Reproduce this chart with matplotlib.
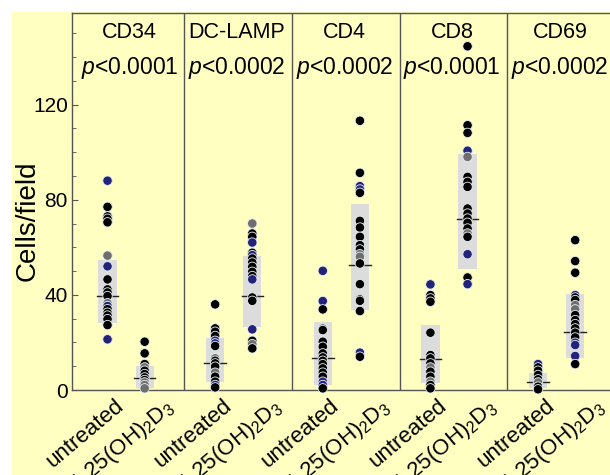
import matplotlib
matplotlib.use("Agg")
import matplotlib.pyplot as plt
from matplotlib.patches import Rectangle
import matplotlib.transforms as mtransforms

plt.rcParams['font.family'] = ['Liberation Sans', 'DejaVu Sans']
plt.rcParams['mathtext.fontset'] = 'custom'
plt.rcParams['mathtext.rm'] = 'Liberation Sans'
plt.rcParams['mathtext.it'] = 'Liberation Sans:italic'

markers = ["CD34", "DC-LAMP", "CD4", "CD8", "CD69"]
pvalues = ["<0.0001", "<0.0002", "<0.0002", "<0.0001", "<0.0002"]
treatments = ["untreated", "1,25(OH)$_2$D$_3$"]

# values (cells/field) and colour codes: k=black, n=navy, g=grey
cd34_untreated = [88, 77, 73, 72, 70.5, 56.5, 52, 46.5, 42.3, 41, 39.5, 36.5, 35.3, 34, 32.5, 31.3, 29.8, 27.3, 21.3]
cd34_untreated_c = "nkkkkgnkkkkgnkkkkkn"
cd34_treated = [20.3, 15.4, 10.9, 9.5, 8.1, 6.7, 5.3, 4.2, 3.2, 2.1, 0.7]
cd34_treated_c = "kkkgkkkkggg"
dclamp_untreated = [36, 25.9, 24.5, 22.7, 20.7, 19.6, 18.5, 13.3, 12.3, 11.2, 9.8, 7.3, 5.6, 3.5, 2.1, 1.1]
dclamp_untreated_c = "kkkknnkgkkkgkknk"
dclamp_treated = [70, 65.8, 64.4, 62, 57.7, 56.7, 55.3, 53.6, 51.8, 49.7, 47.9, 46.5, 38.9, 37.5, 25.5, 20.7, 19.3, 17.5]
dclamp_treated_c = "gkknknkkkkknkknkgk"
cd4_untreated = [50.1, 37.4, 33.9, 25.9, 25.2, 20.3, 18.2, 15.4, 13.7, 12.3, 10.9, 9.1, 7.3, 5.6, 3.5, 2.1, 0.7]
cd4_untreated_c = "nnkgkkkkkkkkkknnk"
cd4_treated = [113.2, 91.3, 85.7, 84.3, 82.9, 71.1, 68.3, 64.4, 60.9, 59.1, 57.1, 56, 53.2, 44.5, 38.1, 37.5, 33.2, 15.7, 14]
cd4_treated_c = "kknnkkkkkkggkkkkknk"
cd8_untreated = [44.4, 39.9, 38.5, 37.1, 24.1, 14.7, 13.3, 11.2, 9.5, 7.7, 5.6, 3.5, 2.1, 0.7]
cd8_untreated_c = "nkkkkkkkgkkgkk"
cd8_treated = [144.5, 111.3, 108.1, 100.6, 98, 89.6, 87.5, 85.4, 76.3, 74.2, 72.1, 70.3, 67.9, 65.8, 64.4, 57.1, 47.3, 44.5]
cd8_treated_c = "kkkngkkkkkkkkgknkn"
cd69_untreated = [10.9, 9.5, 8.1, 6.3, 4.5, 3.2, 1.4, 0.3]
cd69_untreated_c = "nkkkkgkk"
cd69_treated = [63, 54.2, 49.3, 39.9, 38.9, 37.8, 35.7, 33.9, 31.5, 29.4, 27.7, 25.9, 24.1, 22.1, 19.9, 18.9, 14.3, 10.9]
cd69_treated_c = "kkknkkggkkkkkknnnk"

# box ranges (low, high) and medians
box_low = [28, 0.7, 3.5, 26.6, 2.1, 33.6, 3.1, 50.7, 0.7, 13.3]
box_high = [54.6, 10, 22, 56.3, 28.7, 78, 27.3, 99.4, 7, 40.3]
medians = [39.5, 4.9, 11.2, 39.5, 13.6, 52.5, 13, 71.7, 3.2, 24.2]

groups = [
    (cd34_untreated, cd34_untreated_c), (cd34_treated, cd34_treated_c),
    (dclamp_untreated, dclamp_untreated_c), (dclamp_treated, dclamp_treated_c),
    (cd4_untreated, cd4_untreated_c), (cd4_treated, cd4_treated_c),
    (cd8_untreated, cd8_untreated_c), (cd8_treated, cd8_treated_c),
    (cd69_untreated, cd69_untreated_c), (cd69_treated, cd69_treated_c),
]

cmap = {"k": "#000000", "n": "#23237a", "g": "#6e6e6e"}
W, H = 610, 475
fig = plt.figure(figsize=(W / 100, H / 100), dpi=100)
fig.patch.set_facecolor("white")
fig.add_artist(Rectangle((12 / W, 0), 1 - 12 / W, 1 - 12 / H, transform=fig.transFigure,
                         facecolor="#FFFFC2", edgecolor="none", zorder=-10))

left_px, right_px, top_px, bottom_px = 72, 615, 13, 390
ax = fig.add_axes([left_px / W, 1 - bottom_px / H, (right_px - left_px) / W, (bottom_px - top_px) / H])
ax.set_facecolor("none")
ax.set_xlim(-0.33, 4.715)
ax.set_ylim(0, 158.5)

offset = 0.345
xpos = []
for k in range(5):
    xpos += [k, k + offset]

for i, ((vals, cols), x) in enumerate(zip(groups, xpos)):
    ax.add_patch(Rectangle((x - 0.085, box_low[i]), 0.17, box_high[i] - box_low[i],
                           facecolor="#dcdcdc", edgecolor="none", zorder=1))
    ax.plot([x - 0.1, x + 0.1], [medians[i], medians[i]], color="#222222", lw=1.0, zorder=2)
    ax.scatter([x] * len(vals), vals, s=46, c=[cmap[c] for c in cols],
               edgecolors="#e8f0f0", linewidths=0.6, zorder=3, clip_on=False)

for k in range(4):
    ax.axvline(k + 0.715, color="#555555", lw=1.0, zorder=0)

for k in range(5):
    ax.text(k + 0.2025, 150.3, markers[k], ha="center", va="center", fontsize=15.5)
    ax.text(k + 0.2025, 135.2, "$p$" + pvalues[k], ha="center", va="center", fontsize=16.5)

ax.set_yticks([0, 40, 80, 120])
ax.set_yticks(range(0, 160, 10), minor=True)
ax.tick_params(axis="y", which="both", direction="in", length=3, color="#555555",
               labelsize=15, pad=3)
ax.tick_params(axis="y", which="major", length=4)
ax.set_xticks([])
ax.set_ylabel("Cells/field", fontsize=20)
ax.yaxis.set_label_coords(-0.057, 0.448)

for s in ["left", "top", "bottom"]:
    ax.spines[s].set_color("#555555")
    ax.spines[s].set_linewidth(1.0)
ax.spines["right"].set_visible(False)

label_dx = [7, 19]
for i, x in enumerate(xpos):
    tr = mtransforms.offset_copy(ax.transData, fig=fig, x=label_dx[i % 2], y=-5, units="dots")
    ax.text(x, 0, treatments[i % 2], rotation=40, ha="right", va="top",
            rotation_mode="anchor", fontsize=16, transform=tr, clip_on=False)

fig.savefig("out.png", dpi=100)
